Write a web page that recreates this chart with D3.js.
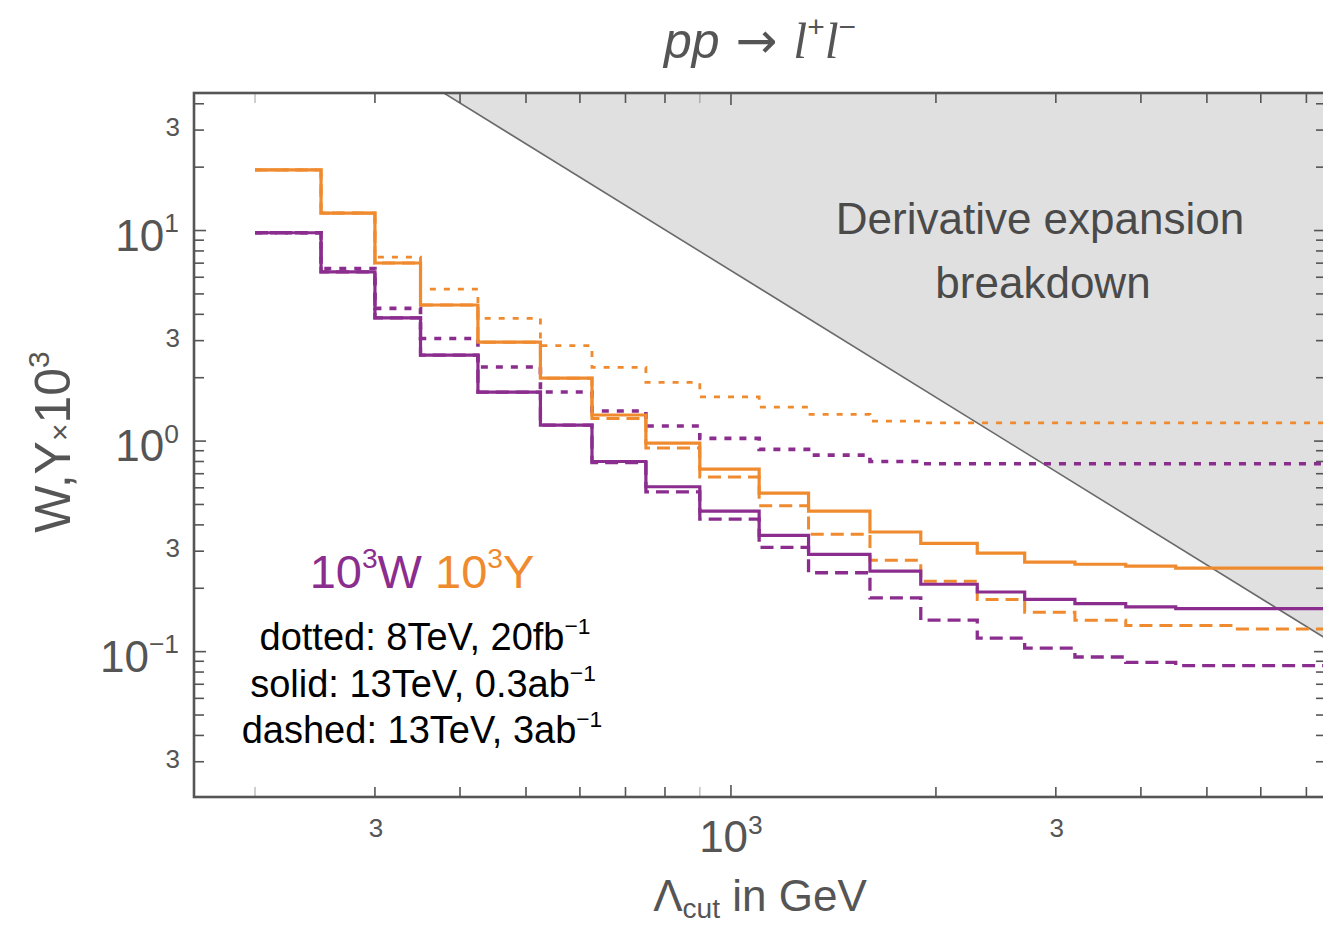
<!DOCTYPE html>
<html>
<head>
<meta charset="utf-8">
<script src="https://cdn.jsdelivr.net/npm/d3@7"></script>
<style>
  body { margin: 0; background: #fff; }
  svg { display: block; }
  text { font-family: "Liberation Sans", Arial, Helvetica, sans-serif; }
</style>
</head>
<body>
<svg id="chart" width="1323" height="925"></svg>
<script>
// Lower edges of the Λcut bins (GeV); the last bin runs to the end of the axis
const binEdges = [200, 250, 300, 350, 425, 525, 625, 750, 900, 1100, 1300, 1600, 1900, 2300, 2700, 3200, 3800, 4500, 5500];

// 10^3 Y bounds
const ySolid  = [19.4, 12.1, 7.01, 4.43, 2.95, 1.99, 1.33, 0.978, 0.736, 0.566, 0.465, 0.370, 0.327, 0.294, 0.266, 0.260, 0.255, 0.249, 0.249];
const yDashed = [19.4, 12.1, 7.01, 4.43, 2.95, 1.99, 1.28, 0.927, 0.675, 0.493, 0.361, 0.272, 0.216, 0.177, 0.154, 0.141, 0.133, 0.133, 0.128];
const yDotted = [19.4, 12.1, 7.48, 5.27, 3.83, 2.84, 2.24, 1.90, 1.62, 1.45, 1.34, 1.245, 1.22, 1.22, 1.22, 1.22, 1.22, 1.22, 1.22];

// 10^3 W bounds
const wSolid  = [9.76, 6.37, 3.85, 2.56, 1.71, 1.19, 0.80, 0.607, 0.465, 0.357, 0.290, 0.241, 0.209, 0.192, 0.177, 0.169, 0.163, 0.160, 0.160];
const wDashed = [9.76, 6.37, 3.85, 2.56, 1.71, 1.19, 0.79, 0.574, 0.426, 0.313, 0.237, 0.180, 0.141, 0.116, 0.104, 0.0943, 0.0889, 0.0858, 0.0858];
const wDotted = [9.76, 6.60, 4.27, 3.07, 2.25, 1.71, 1.39, 1.18, 1.03, 0.913, 0.858, 0.800, 0.780, 0.780, 0.780, 0.780, 0.780, 0.780, 0.780];

// Boundary of the derivative-expansion breakdown region (straight in log-log)
const breakdownX = [300, 8000];
const breakdownY = [71.7, 0.1008];

// Axis ticks and labels
const xTickValues = [200, 300, 400, 500, 600, 700, 800, 900, 1000, 2000, 3000, 4000, 5000, 6000, 7000];
const xFaintTicks = [200, 900];
const xTickLabels = [{v: 300, t: "3"}, {v: 1000, t: "10", sup: "3"}, {v: 3000, t: "3"}];
const yTickValues = [0.03, 0.04, 0.05, 0.06, 0.07, 0.08, 0.09, 0.1, 0.2, 0.3, 0.4, 0.5, 0.6, 0.7, 0.8, 0.9,
                     1, 2, 3, 4, 5, 6, 7, 8, 9, 10, 20, 30, 40];
const yTickLabels = [{v: 30, t: "3"}, {v: 10, t: "10", sup: "1"}, {v: 3, t: "3"}, {v: 1, t: "10", sup: "0"},
                     {v: 0.3, t: "3"}, {v: 0.1, t: "10", sup: "\u22121"}, {v: 0.03, t: "3"}];

const ORANGE = "#f08a2f";
const PURPLE = "#8b2d8e";
const AXIS = "#555555";

const svg = d3.select("#chart");
const plot = {left: 194, right: 1326, top: 93, bottom: 797};

const x = d3.scaleLog().domain([162.7, 7480]).range([plot.left, plot.right]);
const y = d3.scaleLog().domain([0.0204, 45.0]).range([plot.bottom, plot.top]);

svg.append("defs").append("clipPath").attr("id", "plotClip")
  .append("rect")
  .attr("x", plot.left).attr("y", plot.top)
  .attr("width", plot.right - plot.left).attr("height", plot.bottom - plot.top);

// Rich text helper with super/subscripts
function richText(parent, px, py, parts, opts) {
  const t = parent.append("text")
    .attr("x", px).attr("y", py)
    .attr("text-anchor", opts.anchor || "middle")
    .attr("font-size", opts.size)
    .attr("fill", opts.fill || "#000");
  if (opts.style) t.attr("font-style", opts.style);
  let shift = 0;
  parts.forEach(p => {
    let target = 0, fs = p.size || opts.size;
    if (p.sup) { target = -opts.size * 0.42; fs = opts.size * 0.6; }
    if (p.sub) { target = opts.size * 0.16; fs = opts.size * 0.64; }
    const ts = t.append("tspan").text(p.t).attr("font-size", fs);
    if (target - shift !== 0) ts.attr("dy", target - shift);
    shift = target;
    if (p.fill) ts.attr("fill", p.fill);
    if (p.italic) ts.attr("font-style", "italic");
    if (p.family) ts.attr("font-family", p.family);
  });
  return t;
}

const clipped = svg.append("g").attr("clip-path", "url(#plotClip)");

// Breakdown region
const bPts = breakdownX.map((d, i) => [x(d), y(breakdownY[i])]);
clipped.append("path")
  .attr("d", d3.line()([bPts[0], bPts[1], [bPts[1][0], bPts[0][1]]]) + "Z")
  .attr("fill", "#e0e0e0");
clipped.append("path")
  .attr("d", d3.line()(bPts))
  .attr("fill", "none")
  .attr("stroke", "#6a6a6a")
  .attr("stroke-width", 1.6);

// Step curves
const xEnd = x.domain()[1];
const stepLine = d3.line()
  .x(d => x(d[0]))
  .y(d => y(d[1]))
  .curve(d3.curveStepAfter);

function stepPoints(values) {
  const pts = binEdges.map((e, i) => [e, values[i]]);
  pts.push([xEnd, values[values.length - 1]]);
  return pts;
}

const series = [
  {v: yDotted, c: ORANGE, w: 2.8, dash: "6,8"},
  {v: wDotted, c: PURPLE, w: 3.6, dash: "7,8"},
  {v: yDashed, c: ORANGE, w: 3.0, dash: "13,7"},
  {v: wDashed, c: PURPLE, w: 3.3, dash: "13,7"},
  {v: ySolid,  c: ORANGE, w: 3.2, dash: null},
  {v: wSolid,  c: PURPLE, w: 3.2, dash: null}
];
series.forEach(s => {
  const p = clipped.append("path")
    .attr("d", stepLine(stepPoints(s.v)))
    .attr("fill", "none")
    .attr("stroke", s.c)
    .attr("stroke-width", s.w);
  if (s.dash) p.attr("stroke-dasharray", s.dash);
});

// Frame and inward ticks
const ticks = svg.append("g").attr("stroke", AXIS);
xTickValues.forEach(v => {
  const faint = xFaintTicks.includes(v);
  const len = (v === 1000) ? 12 : 10;
  const op = faint ? 0.35 : 1;
  ticks.append("line").attr("x1", x(v)).attr("x2", x(v))
    .attr("y1", plot.bottom).attr("y2", plot.bottom - len)
    .attr("stroke-width", 1.6).attr("stroke-opacity", op);
  ticks.append("line").attr("x1", x(v)).attr("x2", x(v))
    .attr("y1", plot.top).attr("y2", plot.top + len)
    .attr("stroke-width", 1.6).attr("stroke-opacity", op);
});
yTickValues.forEach(v => {
  const major = [0.1, 1, 10].includes(v);
  const len = major ? 12 : 10;
  ticks.append("line").attr("x1", plot.left).attr("x2", plot.left + len)
    .attr("y1", y(v)).attr("y2", y(v)).attr("stroke-width", 1.6);
  ticks.append("line").attr("x1", plot.right).attr("x2", plot.right - len)
    .attr("y1", y(v)).attr("y2", y(v)).attr("stroke-width", 1.6);
});
svg.append("rect")
  .attr("x", plot.left).attr("y", plot.top)
  .attr("width", plot.right - plot.left).attr("height", plot.bottom - plot.top)
  .attr("fill", "none").attr("stroke", AXIS).attr("stroke-width", 2.6);

// Tick labels
xTickLabels.forEach(d => {
  if (d.sup) {
    richText(svg, x(d.v), 852, [{t: d.t}, {t: d.sup, sup: true}], {size: 44, fill: AXIS});
  } else {
    richText(svg, x(d.v) + 1, 837, [{t: d.t}], {size: 26, fill: AXIS});
  }
});
yTickLabels.forEach(d => {
  if (d.sup) {
    richText(svg, 179, y(d.v) + 20, [{t: d.t}, {t: d.sup, sup: true}], {size: 44, fill: AXIS, anchor: "end"});
  } else {
    richText(svg, 180, y(d.v) + 6, [{t: d.t}], {size: 26, fill: AXIS, anchor: "end"});
  }
});

// Title
richText(svg, 760, 58, [
  {t: "pp", italic: true}, {t: " \u2192 ", family: "DejaVu Sans", size: 50},
  {t: "l", italic: true, family: "Liberation Serif"}, {t: "+", sup: true},
  {t: "l", italic: true, family: "Liberation Serif"}, {t: "\u2212", sup: true}
], {size: 50, fill: AXIS});

// Axis titles
richText(svg, 760, 911, [{t: "\u039B"}, {t: "cut", sub: true}, {t: " in GeV"}], {size: 44, fill: AXIS});
const yt = svg.append("g").attr("transform", "translate(70,442) rotate(-90)");
richText(yt, 0, 0, [{t: "W,Y"}, {t: "\u00D7", size: 30}, {t: "10"}, {t: "3", sup: true}], {size: 50, fill: AXIS});

// Region annotation
richText(svg, 1040, 234, [{t: "Derivative expansion"}], {size: 44, fill: "#4a4a4a"});
richText(svg, 1043, 298, [{t: "breakdown"}], {size: 44, fill: "#4a4a4a"});

// Legend
richText(svg, 422, 588, [
  {t: "10", fill: PURPLE}, {t: "3", sup: true, fill: PURPLE}, {t: "W ", fill: PURPLE},
  {t: "10", fill: ORANGE}, {t: "3", sup: true, fill: ORANGE}, {t: "Y", fill: ORANGE}
], {size: 47});
richText(svg, 425, 650, [{t: "dotted: 8TeV, 20fb"}, {t: "\u22121", sup: true}], {size: 38});
richText(svg, 423, 697, [{t: "solid: 13TeV, 0.3ab"}, {t: "\u22121", sup: true}], {size: 38});
richText(svg, 422, 743, [{t: "dashed: 13TeV, 3ab"}, {t: "\u22121", sup: true}], {size: 38});
</script>
</body>
</html>
